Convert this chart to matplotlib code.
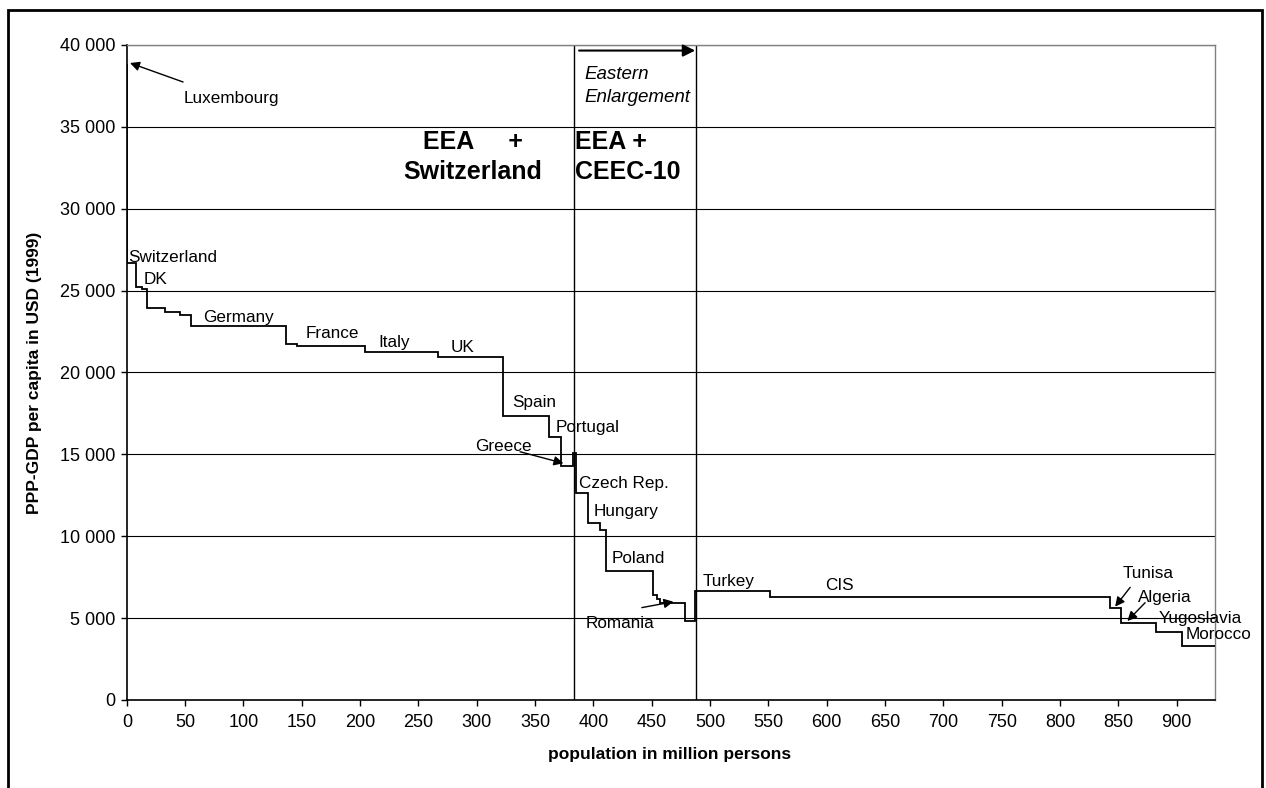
import numpy as np
import matplotlib
matplotlib.use("Agg")
import matplotlib.pyplot as plt
from matplotlib.patches import Rectangle
from matplotlib.ticker import FuncFormatter, MultipleLocator

plt.rcParams['font.family'] = ['Liberation Sans', 'DejaVu Sans']

# population (million) of each step, in order of falling income
pop = [0.4, 7.5, 4.8, 4.9, 15.2, 12.8, 9.2, 81.7, 9.7, 58.0, 62.4, 56.2, 39.5,
       9.7, 10.7, 2.2, 10.3, 10.5, 4.9, 40.3, 4.0, 2.6, 21.1, 8.9, 64.0, 291.5,
       9.4, 30.0, 22.1, 28.5]
# PPP-GDP per capita (USD, 1999)
gdp = [38850, 26700, 25250, 25080, 23920, 23720, 23510, 22840, 21720, 21620,
       21270, 20970, 17360, 16040, 14310, 15070, 12620, 10830, 10380, 7900,
       6410, 6150, 5900, 4820, 6680, 6270, 5600, 4680, 4130, 3300]

# region borders (million persons)
border_eea = 383
border_ceec = 488

names = ['Switzerland', 'DK', 'Germany', 'France', 'Italy', 'UK', 'Spain',
         'Portugal', 'Czech Rep.', 'Hungary', 'Poland', 'Turkey', 'CIS',
         'Yugoslavia', 'Morocco']
name_xy = [(1, 27050), (14.8, 25650), (65.4, 23330), (153.5, 22410),
           (215.6, 21860), (277.3, 21500), (330.3, 18140), (367.2, 16670),
           (387.9, 13190), (399.8, 11480), (415.3, 8670), (494, 7210),
           (598.6, 7020), (884.2, 4990), (907.4, 3970)]

# labels with arrows: name, text position, arrow tail, arrow head
arrow_names = ['Luxembourg', 'Greece', 'Romania', 'Tunisa', 'Algeria']
arrow_text = [(48.5, 36760), (298.5, 15510), (393, 4700), (854, 7740), (866.9, 6270)]
arrow_tail = [(48.2, 37740), (337.1, 15160), (441.5, 5640), (860.2, 6880), (873.0, 5940)]
arrow_head = [(2.7, 38900), (374.3, 14455), (468.6, 6003), (847.3, 5700), (857.8, 4824)]

fig = plt.figure(figsize=(12.66, 7.88), dpi=100)
ax = fig.add_axes([0.1002, 0.1117, 0.8596, 0.8312])

edges = np.concatenate([[0], np.cumsum(pop)])
ax.stairs(gdp, edges, baseline=None, color='black', lw=1.3, zorder=3)

ax.set_xlim(0, edges[-1])
ax.set_ylim(0, 40000)
ax.yaxis.set_major_locator(MultipleLocator(5000))
ax.yaxis.set_major_formatter(FuncFormatter(lambda v, p: f"{int(v):,}".replace(',', ' ')))
ax.set_xticks(np.arange(0, 901, 50))
ax.tick_params(axis='both', labelsize=13, length=4, width=1, direction='out', colors='black')
ax.tick_params(axis='x', pad=6)
ax.tick_params(axis='y', pad=4)

ax.grid(axis='y', color='black', lw=0.8)
ax.set_axisbelow(True)
for s in ['top', 'right']:
    ax.spines[s].set_color('#808080')
    ax.spines[s].set_linewidth(1)
ax.spines['left'].set_linewidth(1.2)
ax.spines['bottom'].set_linewidth(1.2)

ax.axvline(border_eea, color='black', lw=1, zorder=2)
ax.axvline(border_ceec, color='black', lw=1, zorder=2)

for n, (x, y) in zip(names, name_xy):
    ax.text(x, y, n, fontsize=12.3, ha='left', va='center', zorder=4)

for n, t, a, b in zip(arrow_names, arrow_text, arrow_tail, arrow_head):
    ax.text(t[0], t[1], n, fontsize=12.3, ha='left', va='center', zorder=4)
    ax.annotate('', xy=b, xytext=a,
                arrowprops=dict(arrowstyle='-|>', color='black', lw=1,
                                mutation_scale=14, shrinkA=0, shrinkB=0))

# region titles
ax.text(296.8, 34080, 'EEA     +', fontsize=18, fontweight='bold', ha='center', va='center')
ax.text(296.8, 32250, 'Switzerland', fontsize=18, fontweight='bold', ha='center', va='center')
ax.text(384.5, 34080, 'EEA +', fontsize=18, fontweight='bold', ha='left', va='center')
ax.text(384.5, 32250, 'CEEC-10', fontsize=18, fontweight='bold', ha='left', va='center')
ax.text(392.0, 38170, 'Eastern', fontsize=13.5, style='italic', ha='left', va='center')
ax.text(392.0, 36820, 'Enlargement', fontsize=13.5, style='italic', ha='left', va='center')
ax.annotate('', xy=(487.2, 39660), xytext=(387.7, 39660),
            arrowprops=dict(arrowstyle='-|>', color='black', lw=1.5,
                            mutation_scale=18, shrinkA=0, shrinkB=0))

fig.text(0.0276, 0.5266, 'PPP-GDP per capita in USD (1999)', rotation=90,
         fontsize=12.5, fontweight='bold', ha='center', va='center')
fig.text(0.529, 0.0431, 'population in million persons',
         fontsize=12.5, fontweight='bold', ha='center', va='center')

# frame around the chart (open at the bottom)
fig.patches.append(Rectangle((8 / 1266, -0.05), 1254 / 1266, 1.0373, fill=False,
                             lw=2, edgecolor='black', transform=fig.transFigure,
                             clip_on=False))

fig.savefig('out.png', dpi=100)
